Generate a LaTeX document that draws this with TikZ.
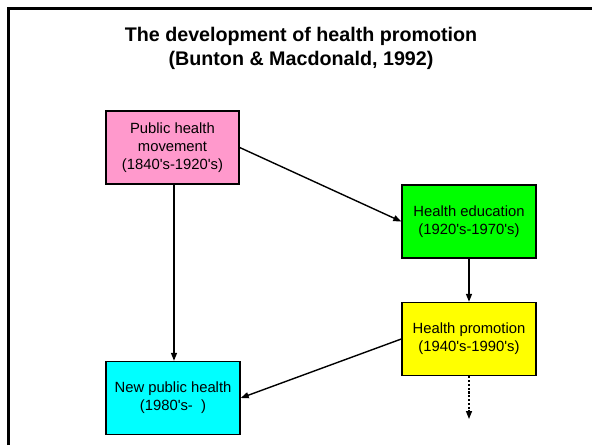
\documentclass[tikz,border=0pt]{standalone}
\usepackage{fontspec}
\setmainfont{Liberation Sans}[Ligatures=TeXOff]
\usetikzlibrary{arrows.meta}
\definecolor{boxpink}{HTML}{FF99CC}
\definecolor{boxgreen}{HTML}{00FF00}
\definecolor{boxyellow}{HTML}{FFFF00}
\definecolor{boxcyan}{HTML}{00FFFF}
\tikzset{
  stage/.style={draw=black, line width=1.4pt, minimum width=134pt, minimum height=73pt,
    inner sep=0pt, align=center, font=\fontsize{14.8}{17.8}\selectfont},
  link/.style={line width=1.4pt, -{Triangle[length=8pt,width=6pt]}},
  titletext/.style={font=\fontsize{19.7}{24}\selectfont\bfseries, anchor=base},
}
\begin{document}
\begin{tikzpicture}[x=1pt, y=-1pt]
\useasboundingbox (0,0) rectangle (592,445);
% frame running off the page at right and bottom
\draw[line width=3pt] (8,445) -- (8,8) -- (592,8);

% title
\node[titletext] (t1) at (301,41.5) {The development of health promotion};
\node[titletext] (t2) at (301,65.5) {(Bunton \& Macdonald, 1992)};

% stages
\node[stage, fill=boxpink, minimum width=133pt] (pub) at (172.5,147.5) {Public health\\movement\\(1840's-1920's)};
\node[stage, fill=boxgreen] (edu) at (469,221.5) {Health education\\(1920's-1970's)};
\node[stage, fill=boxyellow] (pro) at (469,339) {Health promotion\\(1940's-1990's)};
\node[stage, fill=boxcyan] (npo) at (173,398) {New public health\\(1980's-\ \ )};
\coordinate (future) at (469,419);

% connectors
\draw[link] (pub.east) -- (edu.west);
\draw[link] (pub.south -| 174,0) -- (npo.north -| 174,0);
\draw[link] (edu.south) -- (pro.north);
\draw[link] (pro.west) -- (npo.east);
\draw[link, dash pattern=on 2.2pt off 1.6pt] (pro.south) -- (future);
\end{tikzpicture}
\end{document}
